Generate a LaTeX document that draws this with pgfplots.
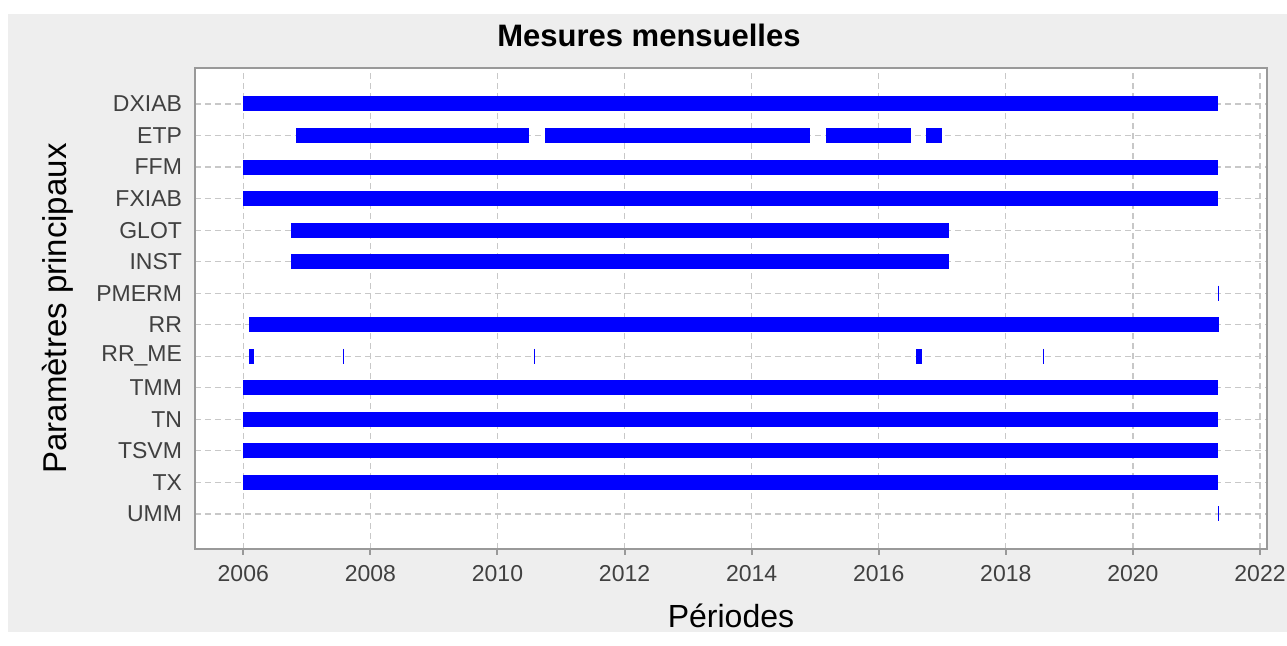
\documentclass[border=0pt]{standalone}
\usepackage{pgfplots}
\pgfplotsset{compat=1.18}
\usepackage{fontspec}
\setmainfont{Liberation Sans}
\definecolor{bgc}{HTML}{EEEEEE}
\definecolor{gridc}{HTML}{C8C8C8}
\definecolor{framec}{HTML}{999999}
\definecolor{labc}{HTML}{404040}
\definecolor{barblue}{RGB}{0,0,255}
\begin{document}
\begin{tikzpicture}[x=1pt,y=1pt]
\useasboundingbox (0,0) rectangle (643.5,323);
\fill[white] (0,0) rectangle (643.5,323);
\fill[bgc] (4,7) rectangle (643.5,316);
\begin{axis}[
  at={(97.5pt,48.5pt)}, anchor=south west,
  scale only axis, width=536pt, height=240.5pt,
  xmin=2005.24, xmax=2022.11, ymin=-1.11, ymax=14.14,
  axis background/.style={fill=white},
  axis line style={framec, line width=1pt},
  xtick={2006,2008,2010,2012,2014,2016,2018,2020,2022},
  xticklabels={2006,2008,2010,2012,2014,2016,2018,2020,2022},
  ytick={0,1,2,3,4,5,6,7,8,9,10,11,12,13},
  yticklabels={UMM,TX,TSVM,TN,TMM,RR\_ME,RR,PMERM,INST,GLOT,FXIAB,FFM,ETP,DXIAB},
  tick label style={font=\fontsize{11.5}{13}\selectfont, text=labc},
  x tick label style={yshift=-1.5pt},
  xtick pos=bottom, ytick pos=left, tick align=outside,
  x tick style={framec, line width=1pt}, major tick length=3pt,
  y tick style={draw=none},
  grid=major,
  major grid style={gridc, dash pattern=on 3pt off 2pt, line width=0.6pt},
  xlabel={Périodes},
  xlabel style={at={(axis description cs:0.5,-0.139)}, anchor=center, font=\fontsize{16}{19}\selectfont},
  ylabel={Paramètres principaux},
  ylabel style={at={(axis description cs:-0.128,0.5)}, anchor=center, font=\fontsize{16.5}{19}\selectfont},
  seg/.style={barblue, solid, mark=none, line width=7.5pt, line cap=butt},
]
% DXIAB
\addplot[seg] coordinates {(2006.0,13) (2021.34,13)};
% ETP
\addplot[seg] coordinates {(2006.83,12) (2010.5,12)};
\addplot[seg] coordinates {(2010.75,12) (2014.92,12)};
\addplot[seg] coordinates {(2015.17,12) (2016.5,12)};
\addplot[seg] coordinates {(2016.75,12) (2017.0,12)};
% FFM
\addplot[seg] coordinates {(2006.0,11) (2021.34,11)};
% FXIAB
\addplot[seg] coordinates {(2006.0,10) (2021.34,10)};
% GLOT
\addplot[seg] coordinates {(2006.75,9) (2017.1,9)};
% INST
\addplot[seg] coordinates {(2006.75,8) (2017.1,8)};
% RR
\addplot[seg] coordinates {(2006.09,6) (2021.36,6)};
% RR_ME
\addplot[seg] coordinates {(2006.09,5) (2006.17,5)};
\addplot[seg] coordinates {(2016.59,5) (2016.68,5)};
% TMM
\addplot[seg] coordinates {(2006.0,4) (2021.34,4)};
% TN
\addplot[seg] coordinates {(2006.0,3) (2021.34,3)};
% TSVM
\addplot[seg] coordinates {(2006.0,2) (2021.34,2)};
% TX
\addplot[seg] coordinates {(2006.0,1) (2021.34,1)};
% single months (PMERM, RR_ME, UMM)
\addplot[barblue, only marks, mark=|, mark size=3.75pt, mark options={solid, line width=0.5pt}]
  coordinates {(2021.35,7) (2007.58,5) (2010.58,5) (2018.6,5) (2021.34,0)};
\end{axis}
\node[anchor=base, font=\fontsize{15.5}{18}\selectfont\bfseries, inner sep=0pt] at (324.5,299.5) {Mesures mensuelles};
\end{tikzpicture}
\end{document}
